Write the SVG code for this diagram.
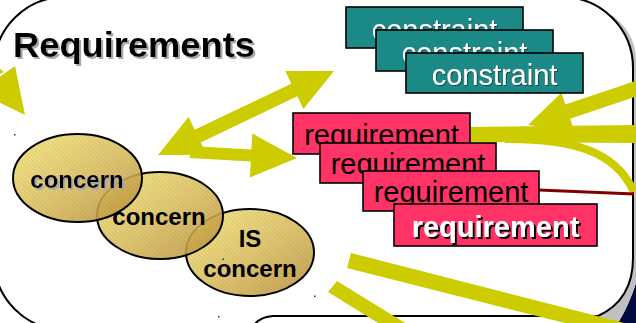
<svg xmlns="http://www.w3.org/2000/svg" width="636" height="323" viewBox="0 0 636 323">
<defs>
<style>
.lbl{font-family:"Liberation Sans",Arial,sans-serif;text-anchor:middle}
.box{stroke:#000;stroke-width:1.6}
.con{fill:#1b8a87}
.req{fill:#ff3366}
.ell{fill:url(#gold);fill-opacity:0.88;stroke:#000;stroke-width:2}
.hat{fill:url(#hatch);stroke:none}
.yel{fill:#cccc00}
</style>
<linearGradient id="gold" x1="0" y1="0" x2="1" y2="1">
<stop offset="0" stop-color="#f5e87c"/>
<stop offset="0.5" stop-color="#dcc060"/>
<stop offset="1" stop-color="#b98f3e"/>
</linearGradient>
<pattern id="hatch" width="3" height="3" patternUnits="userSpaceOnUse" patternTransform="rotate(45)">
<rect width="3" height="1" fill="#7a5a10" fill-opacity="0.12"/>
</pattern>
<filter id="shGray" x="-5%" y="-20%" width="115%" height="150%">
<feOffset in="SourceAlpha" dx="2" dy="2" result="o"/>
<feFlood flood-color="#a8a8a8"/>
<feComposite in2="o" operator="in" result="s"/>
<feMerge><feMergeNode in="s"/><feMergeNode in="SourceGraphic"/></feMerge>
</filter>
<filter id="shDark" x="-5%" y="-20%" width="115%" height="150%">
<feOffset in="SourceAlpha" dx="2" dy="2" result="o"/>
<feFlood flood-color="#000"/>
<feComposite in2="o" operator="in" result="s"/>
<feMerge><feMergeNode in="s"/><feMergeNode in="SourceGraphic"/></feMerge>
</filter>
<filter id="shTeal" x="-5%" y="-20%" width="115%" height="150%">
<feOffset in="SourceAlpha" dx="1" dy="1" result="o"/>
<feFlood flood-color="#0d4644"/>
<feComposite in2="o" operator="in" result="s"/>
<feMerge><feMergeNode in="s"/><feMergeNode in="SourceGraphic"/></feMerge>
</filter>
</defs>
<rect width="636" height="323" fill="#fff"/>
<g id="frame">
<path d="M636,283 Q629,305 618,323 L636,323 Z" fill="#000a40"/>
<path d="M612,15 C625,25 636,40 636,60 L636,283 Q629,305 618,323 L598,323 L598,316 Z" fill="#c0c0c0"/>
<path d="M-6,68 A71,71 0 0 1 65,-3 L562,-3 A71,71 0 0 1 633,68 L633,258 C633,285 622,305 598,316 L273,316 Q258,317 252,328 L65,330 A71,71 0 0 1 -6,259 Z" fill="#fff" stroke="#000" stroke-width="2"/>
</g>
<g id="title">
<text x="13" y="57" font-family="Liberation Sans,Arial,sans-serif" font-weight="bold" font-size="35" fill="#000" textLength="242" lengthAdjust="spacingAndGlyphs" filter="url(#shGray)">Requirements</text>
</g>
<g id="connectors">
<polygon class="yel" points="25,115 15,66 -22,92"/>
<polygon class="yel" points="-2,75 4,72 -40,40 -46,48"/>
<polygon class="yel" points="158,155 206.7,155 200.7,142.4 297.3,96.3 303.4,108.9 334,71 285.3,71 291.3,83.7 194.7,129.7 188.6,117.1"/>
<polygon class="yel" points="190.3,146 251.4,149.4 252.3,133.5 297,158 249.9,177.4 250.8,161.4 189.7,158"/>
<polygon class="yel" points="470,127 636,125 636,143 470,142"/>
<polygon class="yel" points="528,125 561.4,92.7 565.4,104.5 642.6,78.4 647.4,92.6 570.2,118.7 574.2,130.5"/>
<path d="M505,139 C572,139 615,150 634,192" fill="none" stroke="#cccc00" stroke-width="8"/>
<line x1="539" y1="190" x2="634" y2="194" stroke="#800000" stroke-width="3"/>
<polygon class="yel" points="351,253 640,327 640,342 347,268"/>
<polygon class="yel" points="337,281 410,326 383,326 328,292"/>
</g>
<g id="concern-is">
<ellipse class="ell" cx="250" cy="252.5" rx="64" ry="43.5"/>
<ellipse class="hat" cx="250" cy="252.5" rx="63" ry="42.5"/>
<text class="lbl" x="250" y="247" font-size="24" font-weight="bold">IS</text>
<text class="lbl" x="250" y="277" font-size="24" font-weight="bold">concern</text>
</g>
<g id="concern-2">
<ellipse class="ell" cx="160" cy="215.5" rx="63" ry="43.5"/>
<ellipse class="hat" cx="160" cy="215.5" rx="62" ry="42.5"/>
<text class="lbl" x="159" y="225" font-size="24" font-weight="bold">concern</text>
</g>
<g id="concern-1">
<ellipse class="ell" cx="77.5" cy="178" rx="64.5" ry="44"/>
<ellipse class="hat" cx="77.5" cy="178" rx="63.5" ry="43"/>
<text class="lbl" x="77" y="188" font-size="24" font-weight="bold" filter="url(#shGray)">concern</text>
</g>
<g id="constraint-1">
<rect class="box con" x="346" y="7" width="177" height="41"/>
<text class="lbl" x="434.5" y="40" font-size="29" fill="#fff" filter="url(#shTeal)">constraint</text>
</g>
<g id="constraint-2">
<rect class="box con" x="376" y="30" width="177" height="41"/>
<text class="lbl" x="464.5" y="63" font-size="29" fill="#fff" filter="url(#shTeal)">constraint</text>
</g>
<g id="constraint-3">
<rect class="box con" x="406" y="53" width="177" height="40"/>
<text class="lbl" x="494.5" y="85" font-size="29" fill="#fff" filter="url(#shTeal)">constraint</text>
</g>
<g id="requirement-1">
<rect class="box req" x="293" y="113" width="177" height="41"/>
<text class="lbl" x="381.5" y="145" font-size="29">requirement</text>
</g>
<g id="requirement-2">
<rect class="box req" x="320" y="143" width="176" height="40"/>
<text class="lbl" x="408" y="174" font-size="29">requirement</text>
</g>
<g id="requirement-3">
<rect class="box req" x="363" y="171" width="176" height="40"/>
<text class="lbl" x="451" y="202" font-size="29">requirement</text>
</g>
<g id="requirement-4">
<rect class="box req" x="394" y="204" width="203" height="42"/>
<text class="lbl" x="495.5" y="237" font-size="29" font-weight="bold" fill="#fff" filter="url(#shDark)">requirement</text>
</g>
<g id="specks" fill="#333">
<rect x="14" y="134" width="1.5" height="1.5"/>
<rect x="222.5" y="258.5" width="1.5" height="1.5"/>
<rect x="314" y="295.5" width="1.5" height="1.5"/>
<rect x="218" y="316" width="1.5" height="1.5"/>
</g>
</svg>
